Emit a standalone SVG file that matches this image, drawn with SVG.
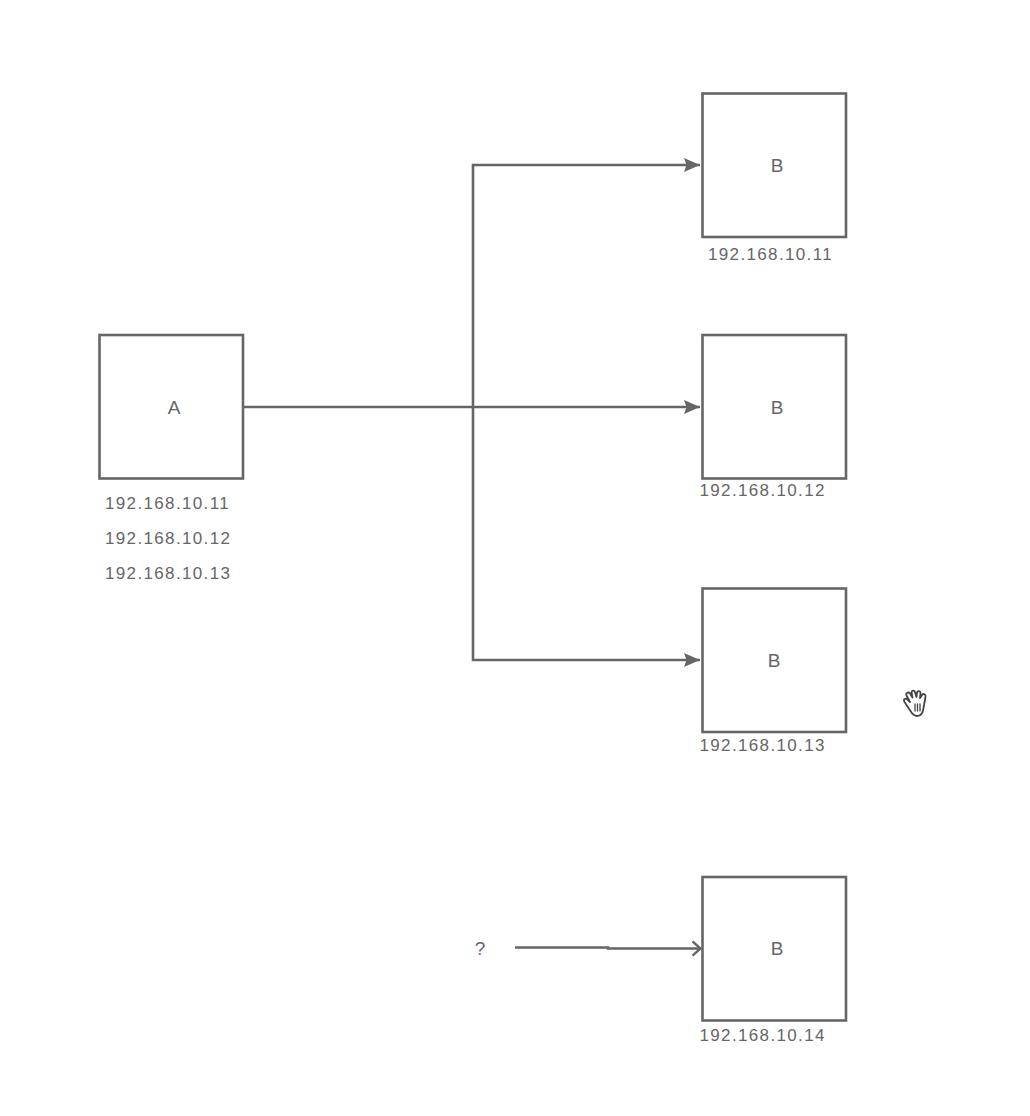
<svg xmlns="http://www.w3.org/2000/svg" width="1030" height="1116" viewBox="0 0 1030 1116">
<style>
.box{fill:#fff;stroke:#666;stroke-width:2.6}
.t{font-family:"Liberation Sans",Arial,sans-serif;fill:#666}
.ip{font-size:17px;letter-spacing:1.35px}
.lab{font-size:19px;text-anchor:middle}
.c{fill:none;stroke:#666;stroke-width:2.6}
</style>
<defs>
<marker id="ah" markerUnits="userSpaceOnUse" markerWidth="18" markerHeight="16" refX="16" refY="8" orient="auto"><path d="M0 1L16 8L0 15L2.500 8Z" fill="#666"/></marker>
<marker id="op" markerUnits="userSpaceOnUse" markerWidth="16" markerHeight="18" refX="14" refY="9" orient="auto"><path d="M5.500 1.800L13.500 9L5.500 16.200" fill="none" stroke="#666" stroke-width="2.400"/></marker>
</defs>
<rect width="1030" height="1116" fill="#fff"/>
<g id="connectors">
<path class="c" d="M243 407H700" marker-end="url(#ah)"/>
<path class="c" d="M473 407V165H700" marker-end="url(#ah)"/>
<path class="c" d="M473 407V660H700" marker-end="url(#ah)"/>
<path class="c" d="M515 947.500H608V948.500H701" marker-end="url(#op)"/>
</g>
<g id="node-a">
<rect class="box" x="99.500" y="335" width="143.500" height="143.500"/>
<text class="t lab" x="174" y="414">A</text>
<text class="t ip" x="105" y="509">192.168.10.11</text>
<text class="t ip" x="105" y="544">192.168.10.12</text>
<text class="t ip" x="105" y="579">192.168.10.13</text>
</g>
<g id="node-b1">
<rect class="box" x="702.500" y="93.500" width="143.500" height="143.500"/>
<text class="t lab" x="777" y="172">B</text>
<text class="t ip" x="708" y="260">192.168.10.11</text>
</g>
<g id="node-b2">
<rect class="box" x="702.500" y="335" width="143.500" height="143.500"/>
<text class="t lab" x="777" y="414">B</text>
<text class="t ip" x="699.500" y="496">192.168.10.12</text>
</g>
<g id="node-b3">
<rect class="box" x="702.500" y="588.500" width="143.500" height="143.500"/>
<text class="t lab" x="774" y="667">B</text>
<text class="t ip" x="699.500" y="751">192.168.10.13</text>
</g>
<g id="node-b4">
<rect class="box" x="702.500" y="877" width="143.500" height="143.500"/>
<text class="t lab" x="777" y="955">B</text>
<text class="t ip" x="699.500" y="1041">192.168.10.14</text>
</g>
<g id="unknown-source">
<text class="t lab" x="480" y="955">?</text>
</g>
<g id="hand-cursor" fill="#fff" stroke="#444" stroke-width="1.800" stroke-linejoin="round" stroke-linecap="round">
<path d="M910.500 711L904.500 702C903 699.500 905.500 697.500 907.500 699.500L910 702L906.500 695.500C905.500 693 908.500 691.500 910 693.500L912.500 697.500L911.500 692.500C911.500 690 914.500 690 915 692L916.500 697L917 692.500C917.500 690.500 920.500 690.500 920.500 693L920 698L922 695C923.500 693 926 694.500 925.500 697L923.500 708C923 713 921 716 917 716C914 716 912 713.500 910.500 711Z"/>
<path d="M915 704V711M917.500 704V711M920 704V711" stroke-width="1.300"/>
</g>
</svg>
